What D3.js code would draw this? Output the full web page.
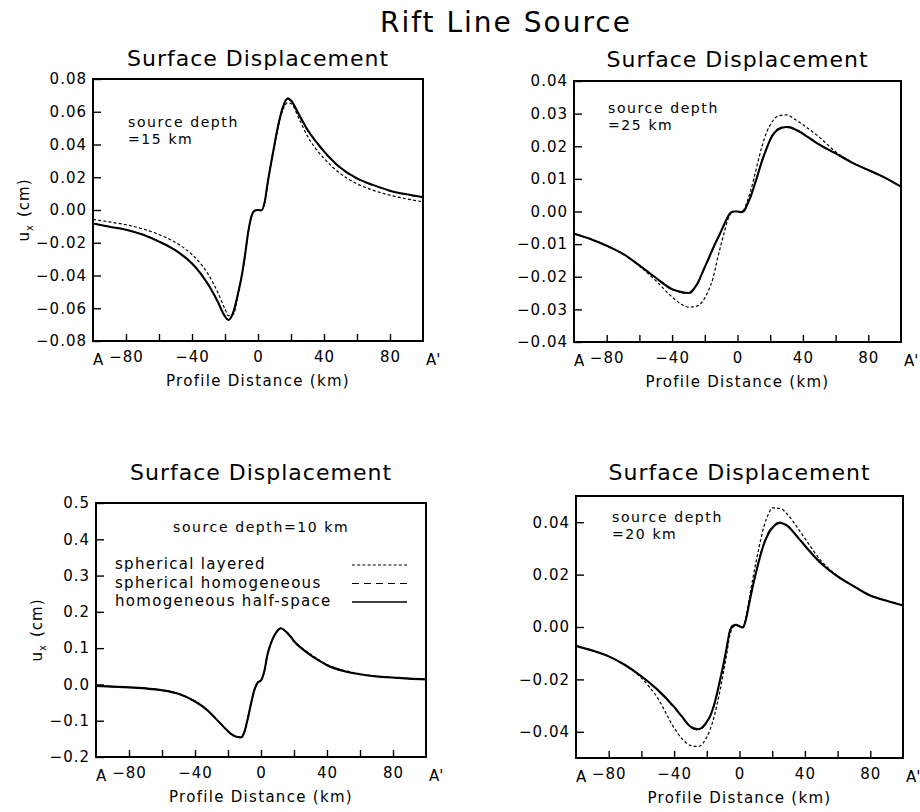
<!DOCTYPE html>
<html><head><meta charset="utf-8">
<script src="https://cdn.jsdelivr.net/npm/d3@7"></script>
<style>
body{margin:0;background:#fff}
svg{display:block}
text{font-family:"DejaVu Sans",sans-serif;fill:#000}
</style></head><body>
<svg id="chart" width="920" height="812"></svg>
<script>
// ---- data ----
const km = [-100,-90,-80,-70,-60,-50,-40,-35,-30,-25,-20,-18,-15,-12,-10,-8,-6,-4,-2,0,2,4,6,8,10,12,15,18,20,25,30,35,40,50,60,70,80,90,100];
const xTicks = [-80,-60,-40,-20,0,20,40,60,80];
const xLabels = [-80,-40,0,40,80];

// depth 15 km
const d15Half   = [-0.0083,-0.0102,-0.0120,-0.0150,-0.0193,-0.0247,-0.0327,-0.0385,-0.0458,-0.0548,-0.0650,-0.0672,-0.0625,-0.0505,-0.0410,-0.0285,-0.0140,-0.0040,-0.0004,0.0000,-0.0002,0.0045,0.0175,0.0290,0.0400,0.0505,0.0625,0.0682,0.0668,0.0580,0.0490,0.0420,0.0358,0.0258,0.0193,0.0152,0.0118,0.0096,0.0078];
const d15Layer  = [-0.0058,-0.0073,-0.0090,-0.0115,-0.0150,-0.0198,-0.0272,-0.0325,-0.0395,-0.0490,-0.0605,-0.0645,-0.0638,-0.0515,-0.0415,-0.0288,-0.0142,-0.0040,-0.0004,0.0000,-0.0002,0.0045,0.0172,0.0285,0.0393,0.0495,0.0610,0.0655,0.0650,0.0555,0.0450,0.0375,0.0315,0.0222,0.0160,0.0120,0.0090,0.0068,0.0050];
const d15Homog  = [-0.0082,-0.0101,-0.0119,-0.0149,-0.0191,-0.0245,-0.0324,-0.0382,-0.0455,-0.0545,-0.0647,-0.0670,-0.0624,-0.0505,-0.0410,-0.0285,-0.0140,-0.0040,-0.0004,0.0000,-0.0002,0.0045,0.0175,0.0290,0.0400,0.0504,0.0623,0.0679,0.0665,0.0577,0.0487,0.0417,0.0355,0.0256,0.0191,0.0150,0.0116,0.0094,0.0076];

// depth 25 km
const d25Half   = [-0.0068,-0.0084,-0.0105,-0.0130,-0.0165,-0.0203,-0.0238,-0.0246,-0.0250,-0.0225,-0.0170,-0.0148,-0.0113,-0.0081,-0.0060,-0.0038,-0.0017,-0.0003,0.0000,0.0000,-0.0002,0.0002,0.0022,0.0045,0.0075,0.0106,0.0155,0.0196,0.0220,0.0252,0.0259,0.0252,0.0238,0.0205,0.0178,0.0150,0.0127,0.0104,0.0076];
const d25Layer  = [-0.0068,-0.0084,-0.0105,-0.0131,-0.0167,-0.0212,-0.0262,-0.0282,-0.0293,-0.0290,-0.0265,-0.0245,-0.0205,-0.0140,-0.0100,-0.0062,-0.0026,-0.0005,0.0000,0.0000,-0.0002,0.0006,0.0032,0.0063,0.0100,0.0142,0.0200,0.0245,0.0265,0.0293,0.0296,0.0283,0.0266,0.0228,0.0183,0.0151,0.0127,0.0104,0.0076];
const d25Homog  = [-0.0068,-0.0084,-0.0104,-0.0130,-0.0166,-0.0204,-0.0240,-0.0248,-0.0252,-0.0227,-0.0172,-0.0150,-0.0115,-0.0082,-0.0061,-0.0039,-0.0017,-0.0003,0.0000,0.0000,-0.0002,0.0002,0.0023,0.0046,0.0076,0.0108,0.0157,0.0198,0.0222,0.0254,0.0261,0.0254,0.0240,0.0206,0.0178,0.0150,0.0127,0.0104,0.0076];

// depth 10 km
const d10Half   = [-0.004,-0.006,-0.008,-0.011,-0.016,-0.026,-0.047,-0.062,-0.082,-0.106,-0.129,-0.137,-0.144,-0.146,-0.130,-0.094,-0.052,-0.015,0.005,0.011,0.036,0.084,0.113,0.134,0.148,0.155,0.146,0.131,0.119,0.098,0.081,0.066,0.053,0.037,0.028,0.022,0.019,0.016,0.014];
const d10Layer  = [-0.004,-0.006,-0.008,-0.011,-0.016,-0.026,-0.046,-0.061,-0.081,-0.105,-0.128,-0.136,-0.143,-0.145,-0.129,-0.093,-0.051,-0.015,0.005,0.011,0.036,0.084,0.113,0.134,0.148,0.154,0.147,0.133,0.121,0.100,0.083,0.068,0.055,0.039,0.029,0.023,0.019,0.016,0.014];
const d10Homog  = [-0.004,-0.006,-0.008,-0.011,-0.016,-0.026,-0.047,-0.062,-0.082,-0.106,-0.129,-0.137,-0.144,-0.146,-0.130,-0.094,-0.052,-0.015,0.005,0.011,0.036,0.084,0.113,0.134,0.148,0.155,0.146,0.132,0.120,0.099,0.082,0.067,0.054,0.038,0.028,0.022,0.019,0.016,0.014];

// depth 20 km
const d20Half   = [-0.0072,-0.0090,-0.0112,-0.0145,-0.0188,-0.0240,-0.0305,-0.0343,-0.0380,-0.0390,-0.0362,-0.0340,-0.0285,-0.0205,-0.0148,-0.0085,-0.0018,0.0005,0.0008,0.0003,-0.0002,0.0030,0.0092,0.0152,0.0205,0.0255,0.0318,0.0360,0.0378,0.0397,0.0382,0.0347,0.0310,0.0242,0.0193,0.0155,0.0120,0.0100,0.0082];
const d20Layer  = [-0.0072,-0.0090,-0.0112,-0.0146,-0.0195,-0.0272,-0.0385,-0.0428,-0.0452,-0.0456,-0.0420,-0.0392,-0.0330,-0.0245,-0.0180,-0.0110,-0.0035,0.0000,0.0006,0.0002,0.0000,0.0040,0.0110,0.0180,0.0245,0.0305,0.0385,0.0435,0.0455,0.0452,0.0425,0.0383,0.0338,0.0252,0.0195,0.0156,0.0121,0.0101,0.0082];
const d20Homog  = [-0.0072,-0.0090,-0.0112,-0.0145,-0.0189,-0.0242,-0.0308,-0.0346,-0.0383,-0.0393,-0.0365,-0.0343,-0.0288,-0.0207,-0.0150,-0.0086,-0.0018,0.0005,0.0008,0.0003,-0.0002,0.0031,0.0093,0.0154,0.0207,0.0258,0.0321,0.0364,0.0382,0.0400,0.0385,0.0349,0.0312,0.0243,0.0193,0.0155,0.0120,0.0100,0.0082];

const yTicks15 = [-0.08,-0.06,-0.04,-0.02,0,0.02,0.04,0.06,0.08];
const yTicks25 = [-0.04,-0.03,-0.02,-0.01,0,0.01,0.02,0.03,0.04];
const yTicks10 = [-0.2,-0.1,0,0.1,0.2,0.3,0.4,0.5];
const yTicks20 = [-0.04,-0.02,0,0.02,0.04];

const seriesNames = ["spherical layered","spherical homogeneous","homogeneous half-space"];

// ---- layout ----
const panels = [
  {L:93, R:423, T:79, B:341, dom:[-0.08,0.08], ticks:yTicks15, fmt:".2f", data:[d15Layer,d15Homog,d15Half],
   depth:["source depth","=15 km"], dx:128, dy:127, ytitle:29, titleY:66},
  {L:574, R:901, T:81, B:342, dom:[-0.04,0.04], ticks:yTicks25, fmt:".2f", data:[d25Layer,d25Homog,d25Half],
   depth:["source depth","=25 km"], dx:608, dy:113, ytitle:null, titleY:67},
  {L:96, R:426, T:503, B:757, dom:[-0.2,0.5], ticks:yTicks10, fmt:".1f", data:[d10Layer,d10Homog,d10Half],
   depth:["source depth=10 km"], dx:173, dy:532, ytitle:42, titleY:480, legend:true},
  {L:576, R:903, T:496, B:758, dom:[-0.05,0.05], ticks:yTicks20, fmt:".2f", data:[d20Layer,d20Homog,d20Half],
   depth:["source depth","=20 km"], dx:612, dy:522, ytitle:null, titleY:480}
];

const styles = [
  {w:1.2, dash:"3,2.2"},
  {w:1.2, dash:"7,5"},
  {w:2.1, dash:null}
];

const svg = d3.select("#chart");
const FS = 15;

svg.append("text").attr("x",380).attr("y",32).attr("font-size",28)
  .attr("letter-spacing","2px").text("Rift Line Source");

panels.forEach(p => {
  const x = d3.scaleLinear().domain([-100,100]).range([p.L,p.R]);
  const y = d3.scaleLinear().domain(p.dom).range([p.B,p.T]);
  const g = svg.append("g");

  // title
  g.append("text").attr("x",(p.L+p.R)/2).attr("y",p.titleY).attr("text-anchor","middle")
    .attr("font-size",22).attr("letter-spacing","1px").text("Surface Displacement");

  // curves
  const line = d3.line().x((d,i)=>x(km[i])).y(d=>y(d)).curve(d3.curveMonotoneX);
  [2,1,0].forEach(si => {
    g.append("path").datum(p.data[si]).attr("d",line).attr("fill","none")
      .attr("stroke","#000").attr("stroke-width",styles[si].w)
      .attr("stroke-dasharray",styles[si].dash);
  });

  // y axis
  const ya = g.append("g").attr("transform",`translate(${p.L},0)`)
    .call(d3.axisLeft(y).tickValues(p.ticks).tickSize(-8).tickPadding(6).tickFormat(d3.format(p.fmt)));
  ya.select(".domain").remove();
  ya.selectAll(".tick line").attr("stroke-width",1.4);
  ya.selectAll("text").attr("font-size",FS).attr("font-family","DejaVu Sans").attr("letter-spacing","1px");

  // x axis
  const xa = g.append("g").attr("transform",`translate(0,${p.B})`)
    .call(d3.axisBottom(x).tickValues(xTicks).tickSize(-7).tickPadding(10)
      .tickFormat(d => xLabels.includes(d) ? d3.format("d")(d) : ""));
  xa.select(".domain").remove();
  xa.selectAll(".tick line").attr("stroke-width",1.4);
  xa.selectAll("text").attr("font-size",FS).attr("font-family","DejaVu Sans").attr("letter-spacing","1px");

  g.append("text").attr("x",x(-100)).attr("y",p.B+24).attr("font-size",FS).text("A");
  g.append("text").attr("x",x(100)+3).attr("y",p.B+24).attr("font-size",FS).text("A'");

  // box
  g.append("rect").attr("x",p.L).attr("y",p.T).attr("width",p.R-p.L).attr("height",p.B-p.T)
    .attr("fill","none").attr("stroke","#000").attr("stroke-width",2);

  // axis titles
  g.append("text").attr("x",(p.L+p.R)/2).attr("y",p.B+45).attr("text-anchor","middle")
    .attr("font-size",FS).attr("letter-spacing","1.3px").text("Profile Distance (km)");
  if (p.ytitle !== null) {
    const t = g.append("text").attr("transform",`translate(${p.ytitle},${(p.T+p.B)/2}) rotate(-90)`)
      .attr("text-anchor","middle").attr("font-size",FS).attr("letter-spacing","1px");
    t.append("tspan").text("u");
    t.append("tspan").attr("font-size",10).attr("dy",4).text("x");
    t.append("tspan").attr("dy",-4).attr("dx",7).text("(cm)");
  }

  // depth label
  p.depth.forEach((s,i) => {
    g.append("text").attr("x",p.dx).attr("y",p.dy+i*16.5).attr("font-size",14)
      .attr("letter-spacing","1.6px").text(s);
  });

  // legend
  if (p.legend) {
    seriesNames.forEach((n,i) => {
      const yy = 569 + i*18.5;
      g.append("text").attr("x",115).attr("y",yy).attr("font-size",FS)
        .attr("letter-spacing","1.3px").text(n);
      g.append("line").attr("x1",352).attr("x2",407).attr("y1",yy-4).attr("y2",yy-4)
        .attr("stroke","#000").attr("stroke-width",i===2?1.4:1.2)
        .attr("stroke-dasharray",styles[i].dash);
    });
  }
});
</script>
</body></html>
